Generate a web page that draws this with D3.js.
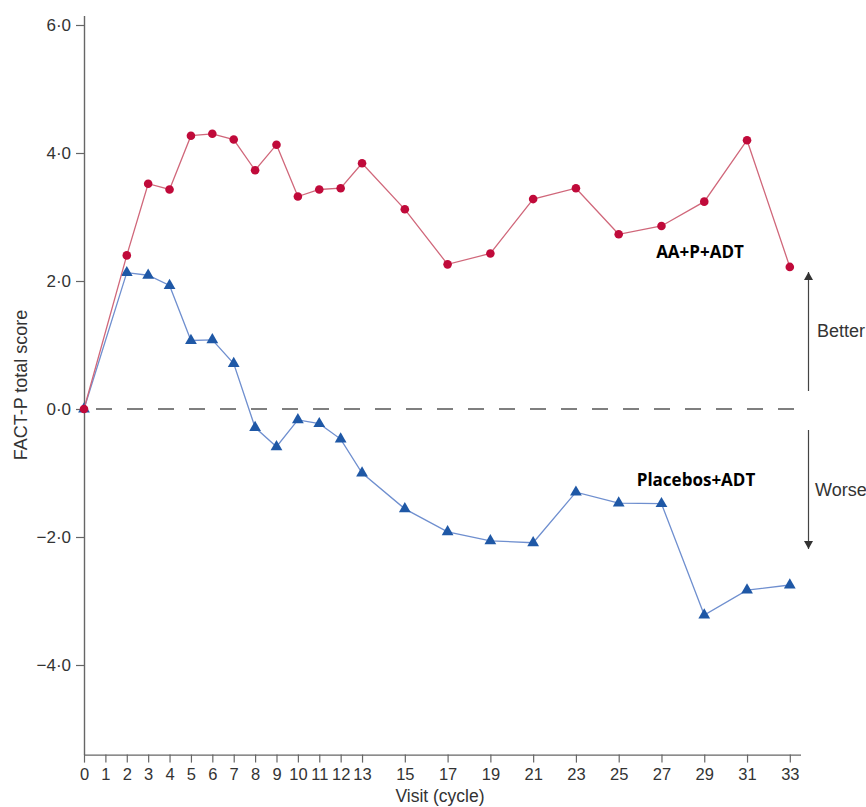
<!DOCTYPE html>
<html>
<head>
<meta charset="utf-8">
<script src="https://cdn.jsdelivr.net/npm/d3@7"></script>
<style>
  html, body { margin: 0; padding: 0; background: #fff; }
  svg { display: block; }
</style>
</head>
<body>
<svg id="chart" width="866" height="807"></svg>
<script>
// Mean change from baseline in FACT-P total score by visit
const visits = [0, 2, 3, 4, 5, 6, 7, 8, 9, 10, 11, 12, 13, 15, 17, 19, 21, 23, 25, 27, 29, 31, 33];
const aaValues = [0, 2.40, 3.52, 3.43, 4.27, 4.30, 4.21, 3.73, 4.13, 3.32, 3.43, 3.45, 3.84,
                  3.12, 2.26, 2.43, 3.28, 3.45, 2.73, 2.86, 3.24, 4.20, 2.22];
const placeboValues = [0, 2.13, 2.09, 1.93, 1.07, 1.08, 0.71, -0.29, -0.59, -0.17, -0.23, -0.47, -1.00,
                       -1.56, -1.92, -2.06, -2.09, -1.30, -1.47, -1.48, -3.22, -2.83, -2.75];
const xTickValues = [0, 1, 2, 3, 4, 5, 6, 7, 8, 9, 10, 11, 12, 13, 15, 17, 19, 21, 23, 25, 27, 29, 31, 33];
const yTickValues = [-4, -2, 0, 2, 4, 6];
const seriesNames = ["AA+P+ADT", "Placebos+ADT"];
const directionLabels = ["Better", "Worse"];

const svg = d3.select("#chart");
const font = "'Liberation Sans', Arial, sans-serif";

const x = d3.scaleLinear().domain([0, 33.5]).range([84, 800.5]);
const y = d3.scaleLinear().domain([-5.4, 6.15]).range([754.6, 15.4]);

const axisColor = "#666";
const textColor = "#333";

// Y axis
const fmt = d => (d < 0 ? "\u2212" : "") + Math.abs(d).toFixed(1).replace(".", "\u00B7");
const gy = svg.append("g")
  .attr("transform", `translate(${x(0)},0)`)
  .call(d3.axisLeft(y).tickValues(yTickValues).tickFormat(fmt).tickSize(8).tickSizeOuter(0).tickPadding(5));
gy.select(".domain").attr("stroke", axisColor).attr("stroke-width", 1.4);
gy.selectAll(".tick line").attr("stroke", axisColor).attr("stroke-width", 1.2);
gy.selectAll(".tick text").attr("fill", textColor).style("font-family", font).style("font-size", "17px");

// X axis
const gx = svg.append("g")
  .attr("transform", `translate(0,${y(-5.4)})`)
  .call(d3.axisBottom(x).tickValues(xTickValues).tickFormat(d3.format("d")).tickSize(8).tickSizeOuter(0).tickPadding(6));
gx.select(".domain").attr("stroke", axisColor).attr("stroke-width", 1.4);
gx.selectAll(".tick line").attr("stroke", axisColor).attr("stroke-width", 1.2);
gx.selectAll(".tick text").attr("fill", textColor).style("font-family", font).style("font-size", "16.5px");

// Axis titles
svg.append("text")
  .attr("transform", `translate(27,385) rotate(-90)`)
  .attr("text-anchor", "middle")
  .attr("fill", textColor)
  .style("font-family", font).style("font-size", "18px")
  .text("FACT-P total score");

svg.append("text")
  .attr("x", 440).attr("y", 802)
  .attr("text-anchor", "middle")
  .attr("fill", textColor)
  .style("font-family", font).style("font-size", "17.5px")
  .text("Visit (cycle)");

// Zero reference line
svg.append("line")
  .attr("x1", x(0)).attr("x2", x(33.5))
  .attr("y1", y(0)).attr("y2", y(0))
  .attr("stroke", "#555").attr("stroke-width", 1.3)
  .attr("stroke-dasharray", "16,15")
  .attr("stroke-dashoffset", -12);

const line = d3.line().x(d => x(d[0])).y(d => y(d[1]));

// Placebo series (blue triangles)
const placeboPts = visits.map((v, i) => [v, placeboValues[i]]);
svg.append("path").datum(placeboPts)
  .attr("d", line).attr("fill", "none")
  .attr("stroke", "#6f8fcf").attr("stroke-width", 1.3);
svg.append("g").selectAll("path").data(placeboPts).join("path")
  .attr("transform", d => `translate(${x(d[0])},${y(d[1])})`)
  .attr("d", d3.symbol(d3.symbolTriangle, 60))
  .attr("fill", "#1f58a6");

// AA+P+ADT series (red circles)
const aaPts = visits.map((v, i) => [v, aaValues[i]]);
svg.append("path").datum(aaPts)
  .attr("d", line).attr("fill", "none")
  .attr("stroke", "#d0677a").attr("stroke-width", 1.3);
svg.append("g").selectAll("circle").data(aaPts).join("circle")
  .attr("cx", d => x(d[0])).attr("cy", d => y(d[1]))
  .attr("r", 4.3)
  .attr("fill", "#c00a3a");

// Series labels
const labelFont = "'Open Sans', 'Noto Sans', sans-serif";
svg.append("text").attr("x", 700).attr("y", 258)
  .attr("text-anchor", "middle").attr("fill", "#000")
  .style("font-family", labelFont).style("font-weight", "bold").style("font-size", "17px")
  .text(seriesNames[0]);
svg.append("text").attr("x", 696).attr("y", 486)
  .attr("text-anchor", "middle").attr("fill", "#000")
  .style("font-family", labelFont).style("font-weight", "bold").style("font-size", "17px")
  .text(seriesNames[1]);

// Better / Worse direction arrows
const ax = 808.5;
function arrow(y1, y2) {
  svg.append("line").attr("x1", ax).attr("x2", ax).attr("y1", y1).attr("y2", y2)
    .attr("stroke", "#444").attr("stroke-width", 1.2);
  const dir = y2 < y1 ? 1 : -1;
  svg.append("path")
    .attr("d", `M${ax},${y2} L${ax - 4.5},${y2 + dir * 8} L${ax + 4.5},${y2 + dir * 8} Z`)
    .attr("fill", "#333");
}
arrow(391, 272);
arrow(430, 549);

svg.append("text").attr("x", 817).attr("y", 336.5)
  .attr("fill", textColor)
  .style("font-family", font).style("font-size", "18px")
  .text(directionLabels[0]);
svg.append("text").attr("x", 815).attr("y", 495.5)
  .attr("fill", textColor)
  .style("font-family", font).style("font-size", "18px")
  .text(directionLabels[1]);
</script>
</body>
</html>
